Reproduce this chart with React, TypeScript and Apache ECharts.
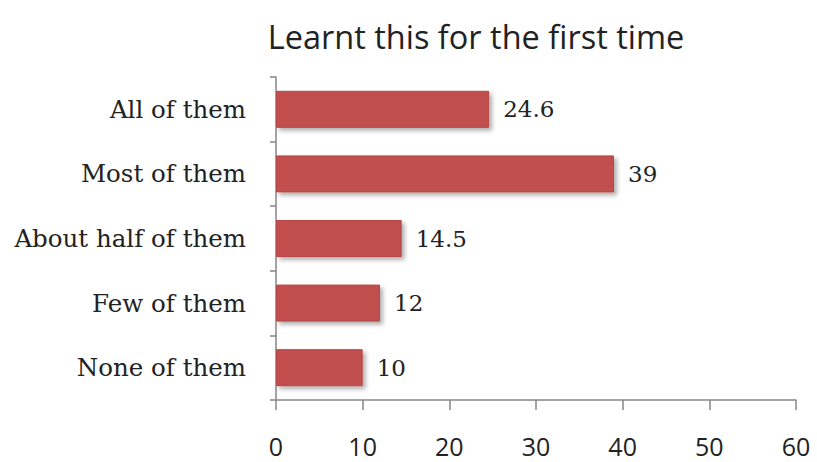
import React, { useEffect, useRef } from "react";
import * as echarts from "echarts";

const categories = ["All of them", "Most of them", "About half of them", "Few of them", "None of them"];
const values = [24.6, 39, 14.5, 12, 10];
const titleText = "Learnt this for the first time";

export default function App() {
  const ref = useRef<HTMLDivElement>(null);
  useEffect(() => {
    if (!ref.current) return;
    const chart = echarts.init(ref.current, null, { renderer: "svg" });
    chart.setOption({
      animation: false,
      backgroundColor: "#ffffff",
      title: {
        text: titleText,
        left: 471,
        top: 15,
        textAlign: "center",
        textStyle: { fontFamily: "Open Sans", fontSize: 32.5, fontWeight: "normal", color: "#222222" },
      },
      grid: { left: 276, right: 21, top: 77, bottom: 62 },
      xAxis: {
        type: "value",
        min: 0,
        max: 60,
        interval: 10,
        splitLine: { show: false },
        axisLine: { show: true, lineStyle: { color: "#868686", width: 1.5 } },
        axisTick: { show: true, length: 10, lineStyle: { color: "#868686", width: 1.5 } },
        axisLabel: { fontFamily: "Open Sans", fontSize: 25, lineHeight: 26, color: "#222222", margin: 33 },
      },
      yAxis: {
        type: "category",
        data: categories,
        inverse: true,
        axisLine: { show: true, lineStyle: { color: "#868686", width: 1.5 } },
        axisTick: { show: true, length: 6, lineStyle: { color: "#868686", width: 1.5 } },
        axisLabel: { fontFamily: "DejaVu Serif", fontSize: 24.5, color: "#222222", margin: 30 },
      },
      series: [
        {
          type: "bar",
          data: values,
          barWidth: 37,
          itemStyle: {
            color: "#C0504D",
            borderColor: "#B54744",
            borderWidth: 1,
            shadowColor: "rgba(0,0,0,0.3)",
            shadowBlur: 4,
            shadowOffsetX: 3,
            shadowOffsetY: 3,
          },
          label: {
            show: true,
            position: "right",
            distance: 14,
            fontFamily: "DejaVu Serif",
            fontSize: 23,
            color: "#222222",
          },
        },
      ],
    });
    return () => chart.dispose();
  }, []);
  return <div ref={ref} style={{ position: "fixed", left: 0, top: 0, width: 817, height: 462 }} />;
}
